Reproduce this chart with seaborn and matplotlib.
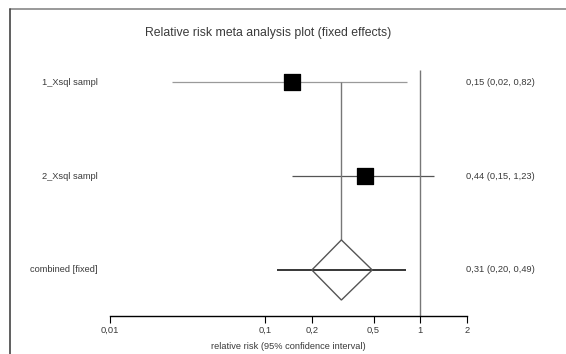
import matplotlib
matplotlib.use("Agg")
import matplotlib.pyplot as plt
from matplotlib.lines import Line2D
from matplotlib.patches import Polygon
import seaborn as sns
import pandas as pd

# study data (relative risk, 95% CI)
studies = ["1_Xsql sampl", "2_Xsql sampl"]
rr = [0.15, 0.44]
lower = [0.025, 0.15]
upper = [0.82, 1.23]
ci_text = ["0,15 (0,02, 0,82)", "0,44 (0,15, 1,23)"]

pooled_label = "combined [fixed]"
pooled_rr = 0.31
pooled_lower = 0.20
pooled_upper = 0.49
pooled_line = [0.12, 0.81]
pooled_text = "0,31 (0,20, 0,49)"

ticks = [0.01, 0.1, 0.2, 0.5, 1, 2]
tick_labels = ["0,01", "0,1", "0,2", "0,5", "1", "2"]

TXT = "#3a3a3a"
FS = 6.7

sns.set_theme(style="white")
plt.rcParams["font.family"] = ["Liberation Sans", "DejaVu Sans"]

fig = plt.figure(figsize=(5.66, 3.54), dpi=100)
ax = fig.add_axes([110 / 566, 38 / 354, 357 / 566, 246 / 354])

ypos = [2, 1]
pooled_y = 0

df = pd.DataFrame({"study": studies, "rr": rr, "y": ypos})

# CI lines
ax.hlines(ypos[0], lower[0], upper[0], color="#9a9a9a", lw=0.9)
ax.hlines(ypos[1], lower[1], upper[1], color="#555555", lw=0.9)
ax.hlines(pooled_y, pooled_line[0], pooled_line[1], color="black", lw=1.1)

# line of no effect and pooled estimate line
ax.vlines(1, pooled_y - 0.49, 2.13, color="#777777", lw=1.0)
ax.vlines(pooled_rr, pooled_y + 0.32, ypos[0], color="#777777", lw=1.0)

# study squares
sns.scatterplot(data=df, x="rr", y="y", marker="s", s=135, color="black",
                edgecolor="black", ax=ax, zorder=3, legend=False)

# pooled diamond
diamond = Polygon([(pooled_lower, pooled_y), (pooled_rr, pooled_y + 0.32),
                   (pooled_upper, pooled_y), (pooled_rr, pooled_y - 0.32)],
                  closed=True, facecolor="none", edgecolor="#555555", lw=1.0, zorder=4)
ax.add_patch(diamond)

ax.set_xscale("log")
ax.set_xlim(0.01, 2)
ax.set_ylim(-0.49, 2.13)
ax.set_xticks(ticks)
ax.set_xticklabels(tick_labels, fontsize=FS, color=TXT)
ax.minorticks_off()
ax.set_yticks([])
ax.set_xlabel("relative risk (95% confidence interval)", fontsize=FS, color=TXT, labelpad=5)
ax.tick_params(axis="x", direction="out", length=5, width=0.8, color="black", bottom=True, pad=2)
for side in ["top", "left", "right"]:
    ax.spines[side].set_visible(False)
ax.spines["bottom"].set_color("black")
ax.spines["bottom"].set_linewidth(1.0)
ax.set_ylabel("")

# row labels and values
for lab, y, t in zip(studies + [pooled_label], ypos + [pooled_y], ci_text + [pooled_text]):
    ax.text(-0.034, y, lab, transform=ax.get_yaxis_transform(), ha="right", va="center",
            fontsize=FS, color=TXT)
    ax.text(0.998, y, t, transform=ax.get_yaxis_transform(), ha="left", va="center",
            fontsize=FS, color=TXT)

fig.text(268 / 566, 1 - 33 / 354, "Relative risk meta analysis plot (fixed effects)",
         ha="center", va="center", fontsize=8.8, color=TXT)

# window frame
fig.add_artist(Line2D([10 / 566, 1], [1 - 9 / 354, 1 - 9 / 354], color="#888888", lw=1.2))
fig.add_artist(Line2D([10 / 566, 10 / 566], [0, 1 - 9 / 354], color="#444444", lw=1.2))

fig.savefig("out.png", dpi=100)
